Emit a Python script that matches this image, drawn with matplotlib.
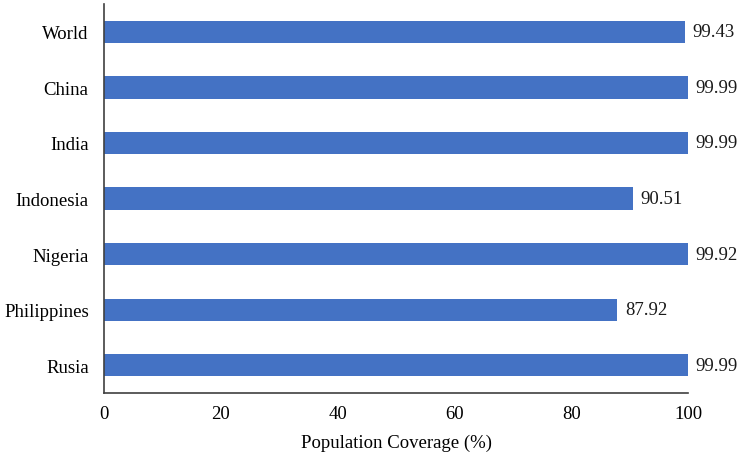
import matplotlib.pyplot as plt
import numpy as np

plt.rcParams['font.family'] = ['Liberation Serif', 'DejaVu Serif']

countries = ['World', 'China', 'India', 'Indonesia', 'Nigeria', 'Philippines', 'Rusia']
coverage = [99.43, 99.99, 99.99, 90.51, 99.92, 87.92, 99.99]
xticks = [0, 20, 40, 60, 80, 100]

fig = plt.figure(figsize=(7.43, 4.64), dpi=100)
ax = fig.add_axes([0.140, 0.151, 0.786, 0.838])

y = np.arange(len(countries))
ax.barh(y, coverage, height=0.4, color='#4472C4')

# value labels at the end of each bar
for yi, v in zip(y, coverage):
    ax.annotate(f'{v:.2f}', (v, yi), textcoords='offset points', xytext=(5.5, 0),
                ha='left', va='center', fontsize=13.5, color='#1a1a1a')

ax.set_ylim(len(countries) - 0.5, -0.5)
ax.set_xlim(0, 100)
ax.set_yticks(y)
ax.set_yticklabels(countries, fontsize=13.5)
ax.set_xticks(xticks)
ax.set_xticklabels([str(t) for t in xticks], fontsize=13.5)
ax.tick_params(length=0, pad=11)
ax.tick_params(axis='x', pad=9)
ax.set_xlabel('Population Coverage (%)', fontsize=13.5, labelpad=8)

for s in ['top', 'right']:
    ax.spines[s].set_visible(False)
for s in ['left', 'bottom']:
    ax.spines[s].set_color('#404040')
    ax.spines[s].set_linewidth(1.2)

plt.savefig('out.png', dpi=100)
